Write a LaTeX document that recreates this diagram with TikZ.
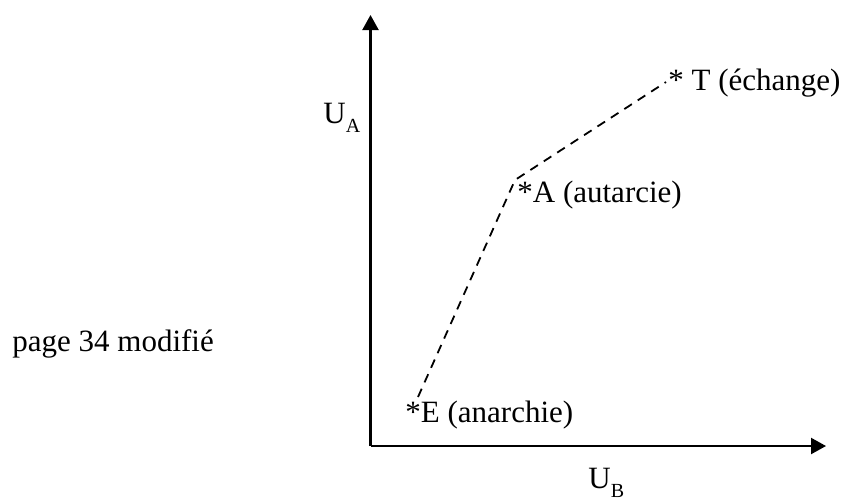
\documentclass[tikz,border=0pt]{standalone}
\usepackage{fontspec}
\setmainfont{Liberation Serif}
\usetikzlibrary{arrows.meta}
\newcommand{\utl}[1]{U\raisebox{-4.5pt}{\fontsize{10}{12}\selectfont #1}}

\begin{document}
\begin{tikzpicture}[x=0.5pt,y=-0.5pt,
    axis/.style={line width=1.1pt,-{Triangle[length=7.5pt,width=8pt]}},
    pathline/.style={line width=0.9pt,dash pattern=on 4.5pt off 3.5pt},
    lbl/.style={anchor=base west,inner sep=0pt,font=\fontsize{15.5}{18}\selectfont}]
\useasboundingbox (0,0) rectangle (844,499);
% axes
\coordinate (O) at (370.5,446);
\coordinate (ytop) at (370.5,15);
\coordinate (xend) at (826,446);
\draw[axis] (O) -- (ytop);
\draw[axis] (O) -- (xend);
\node[lbl] (ua) at (323,123) {\utl{A}};
\node[lbl] (ub) at (588,488) {\utl{B}};
% points
\coordinate (e) at (418,397);
\coordinate (a) at (515,180);
\coordinate (t) at (666,82);
\draw[pathline] (e) -- (a) -- (t);
\node[lbl] (E) at (405,422) {*E (anarchie)};
\node[lbl] (A) at (517,202) {*A (autarcie)};
\node[lbl] (T) at (668,90) {* T (échange)};
\node[lbl] (note) at (12,351) {page 34 modifié};
\end{tikzpicture}
\end{document}
